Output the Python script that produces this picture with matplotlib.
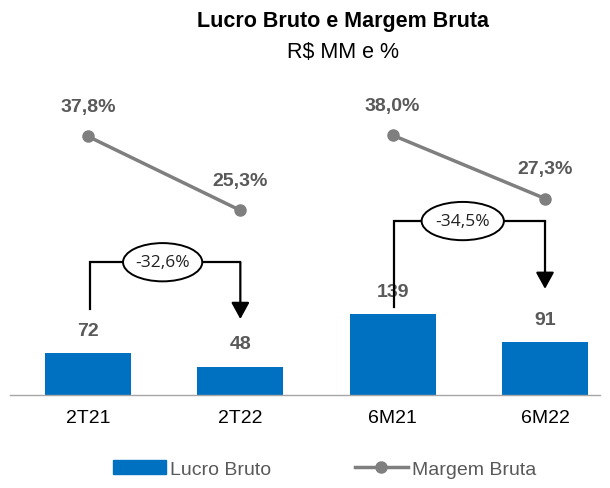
import matplotlib
matplotlib.use("Agg")
import matplotlib.pyplot as plt
from matplotlib.patches import Ellipse, Patch
from matplotlib.lines import Line2D

categories = ["2T21", "2T22", "6M21", "6M22"]
lucro_bruto = [72, 48, 139, 91]
margem_bruta = [37.8, 25.3, 38.0, 27.3]
margem_labels = ["37,8%", "25,3%", "38,0%", "27,3%"]
variacoes = ["-32,6%", "-34,5%"]

FONT = "Liberation Sans"
BLUE = "#0070C0"
GRAY = "#7F7F7F"
DARK = "#595959"

fig = plt.figure(figsize=(6.10, 4.89), dpi=100)
W, H = 610, 489
ax = fig.add_axes([10 / W, (H - 396) / H, 590 / W, 316 / H])
ax2 = ax.twinx()

x = list(range(len(categories)))
ax.bar(x, lucro_bruto, width=0.565, color=BLUE, zorder=2)
ax.set_xlim(-0.512, 3.361)
ax.set_ylim(0, 545)
ax2.set_ylim(-5.9, 47.5)

for i, v in enumerate(lucro_bruto):
    ax.text(i, v + 40, str(v), ha="center", va="center", fontsize=14,
            fontweight="bold", color=DARK, family=FONT)

for seg in [(0, 1), (2, 3)]:
    ax2.plot([seg[0], seg[1]], [margem_bruta[seg[0]], margem_bruta[seg[1]]],
             color=GRAY, lw=2.5, marker="o", markersize=8, zorder=3)
for i, v in enumerate(margem_bruta):
    ax2.text(i, v + 5.0, margem_labels[i], ha="center", va="center", fontsize=14,
             fontweight="bold", color=DARK, family=FONT)

# brackets with variation labels
brackets = [(0, 1, 148, 229, 131, 0.49), (2, 3, 152, 300, 183, 2.46)]
for k, (a, b, ystart, ytop, ytip, cx) in enumerate(brackets):
    ax.plot([a + 0.01, a + 0.01, b], [ystart, ytop, ytop], color="black", lw=1.6,
            solid_joinstyle="miter", zorder=4)
    ax.annotate("", xy=(b, ytip), xytext=(b, ytop),
                arrowprops=dict(arrowstyle="-|>,head_length=1.0,head_width=0.55",
                                color="black", lw=1.6, shrinkA=0, shrinkB=0), zorder=4)
    ew = 0.52 if k == 0 else 0.54
    ax.add_patch(Ellipse((cx, ytop), ew, 66, facecolor="white", edgecolor="black",
                         lw=1.4, zorder=5))
    ax.text(cx, ytop, variacoes[k], ha="center", va="center", fontsize=12.5,
            color="#222222", family="Open Sans", zorder=6)

ax.set_xticks(x)
ax.set_xticklabels(categories, fontsize=14, family=FONT, color="black")
ax.tick_params(axis="x", length=0, pad=10)
ax.set_yticks([])
ax2.set_yticks([])
for a_ in (ax, ax2):
    for s in ["top", "right", "left", "bottom"]:
        a_.spines[s].set_visible(False)
ax.spines["bottom"].set_visible(True)
ax.spines["bottom"].set_color("#A6A6A6")
ax.spines["bottom"].set_linewidth(1.0)

fig.text(343 / W, 1 - 21 / H, "Lucro Bruto e Margem Bruta", ha="center", va="center",
         fontsize=15.5, fontweight="bold", family=FONT)
fig.text(343 / W, 1 - 53 / H, "R$ MM e %", ha="center", va="center",
         fontsize=15.5, family=FONT)

# legend
h1 = Patch(facecolor=BLUE, edgecolor=BLUE)
h2 = Line2D([], [], color=GRAY, lw=2.5, marker="o", markersize=8)
common = dict(loc="center left", frameon=False, prop=dict(family=FONT, size=14),
              labelcolor=DARK, handlelength=2.7, handletextpad=0.25,
              borderpad=0, borderaxespad=0)
leg1 = fig.legend([h1], ["Lucro Bruto"], bbox_to_anchor=(113 / W, 1 - 470 / H), **common)
leg2 = fig.legend([h2], ["Margem Bruta"], bbox_to_anchor=(355 / W, 1 - 470 / H), **common)

fig.savefig("out.png", dpi=100)
